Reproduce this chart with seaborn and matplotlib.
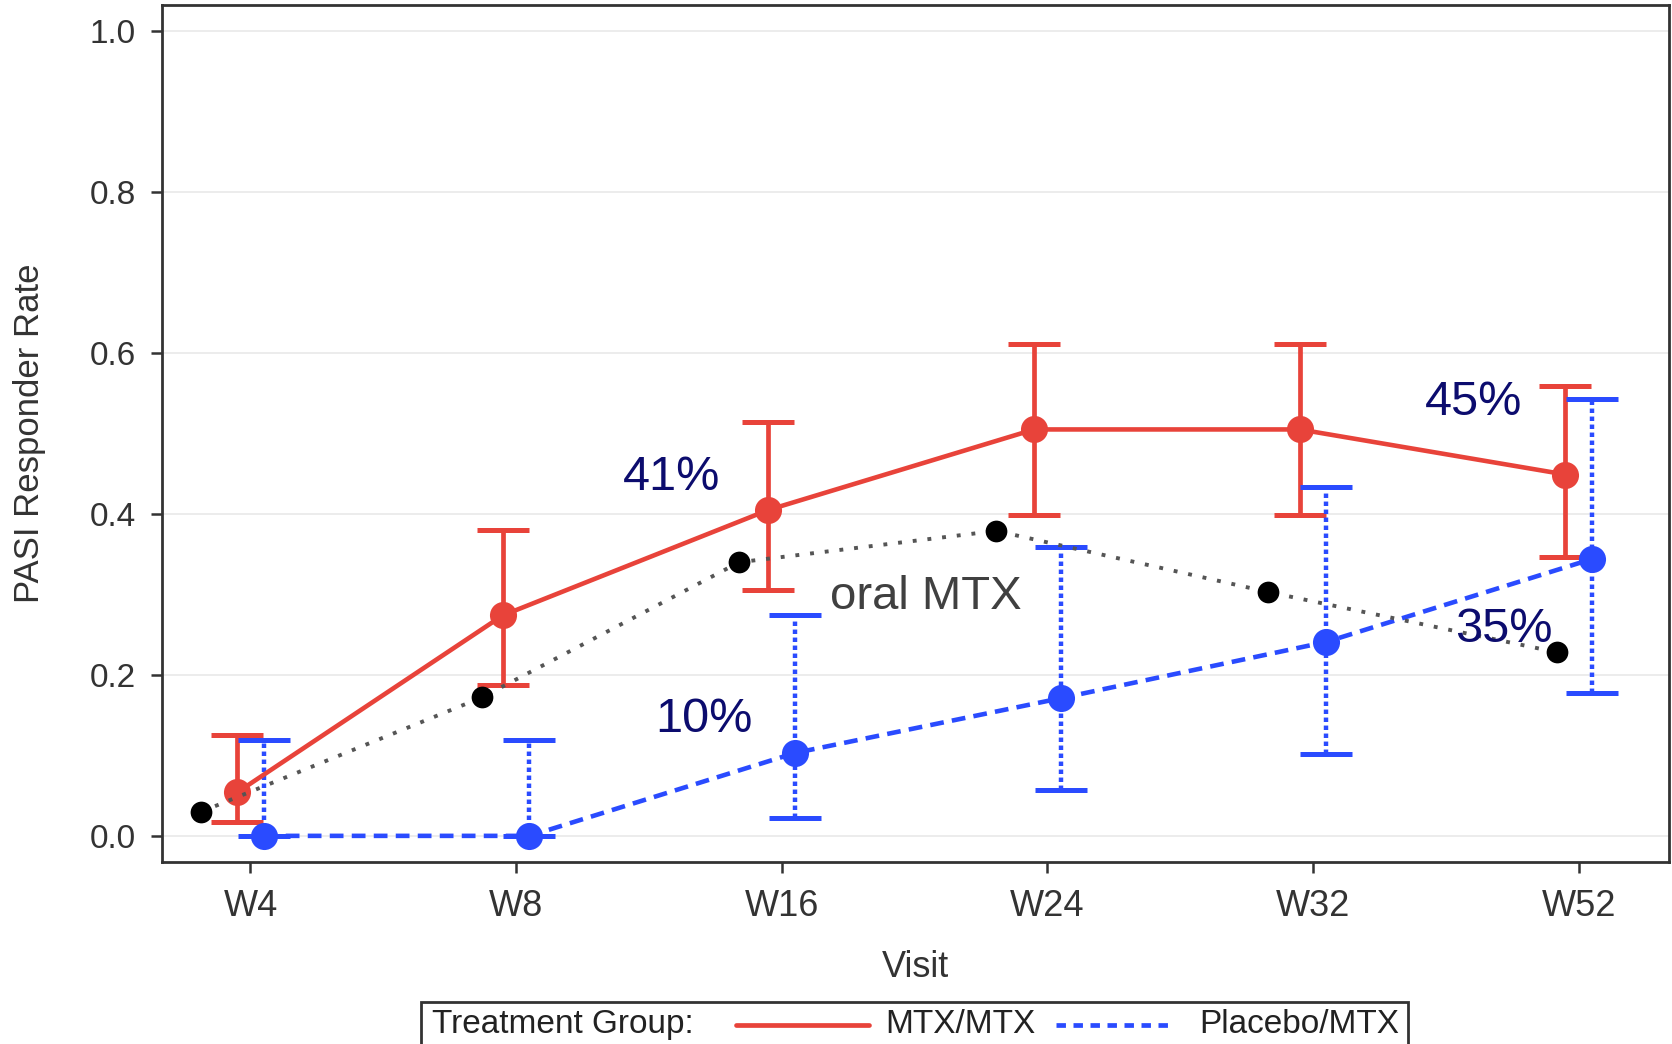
import numpy as np
import pandas as pd
import matplotlib
matplotlib.use("Agg")
import matplotlib.pyplot as plt
import seaborn as sns
from matplotlib.lines import Line2D
from matplotlib.patches import Rectangle

# ---------------- data ----------------
visits = ["W4", "W8", "W16", "W24", "W32", "W52"]
mtx_rate = [0.054, 0.274, 0.405, 0.505, 0.505, 0.449]
mtx_lower = [0.017, 0.187, 0.305, 0.399, 0.399, 0.347]
mtx_upper = [0.125, 0.380, 0.514, 0.611, 0.611, 0.559]
pbo_rate = [0.000, 0.000, 0.103, 0.171, 0.241, 0.344]
pbo_lower = [0.000, 0.000, 0.022, 0.057, 0.102, 0.177]
pbo_upper = [0.119, 0.119, 0.274, 0.359, 0.434, 0.543]
oral_pos = [-0.185, 0.871, 1.840, 2.807, 3.831, 4.920]
oral_rate = [0.030, 0.172, 0.340, 0.379, 0.303, 0.228]
pct_labels = ["41%", "10%", "45%", "35%"]
pct_x = [1.586, 1.707, 4.606, 4.719]
pct_y = [0.445, 0.144, 0.539, 0.257]
y_ticks = [0.0, 0.2, 0.4, 0.6, 0.8, 1.0]

RED = "#e8433a"
BLUE = "#2a4bff"
NAVY = "#0c0c6e"
offset = 0.05

idx = np.arange(len(visits))
df_mtx = pd.DataFrame({"pos": idx - offset, "rate": mtx_rate})
df_pbo = pd.DataFrame({"pos": idx + offset, "rate": pbo_rate})
df_oral = pd.DataFrame({"pos": oral_pos, "rate": oral_rate})

sns.set_theme(style="white")
plt.rcParams["font.family"] = ["Liberation Sans", "DejaVu Sans"]

fig = plt.figure(figsize=(16.72, 10.44), dpi=100)
ax = fig.add_axes([0.0969, 0.1747, 0.9013, 0.8202])

# grid
for yt in y_ticks:
    ax.axhline(yt, color="#ebebeb", lw=1.3, zorder=0)

# error bars
eb1 = ax.errorbar(df_mtx["pos"], mtx_rate,
                  yerr=[np.array(mtx_rate) - np.array(mtx_lower),
                        np.array(mtx_upper) - np.array(mtx_rate)],
                  fmt="none", ecolor=RED, elinewidth=3.4, capsize=19, capthick=3.6, zorder=3)
eb2 = ax.errorbar(df_pbo["pos"], pbo_rate,
                  yerr=[np.array(pbo_rate) - np.array(pbo_lower),
                        np.array(pbo_upper) - np.array(pbo_rate)],
                  fmt="none", ecolor=BLUE, elinewidth=3.2, capsize=19, capthick=3.6, zorder=3)
for lc in eb2[2]:
    lc.set_linestyle((0, (1.0, 0.8)))

# lines
sns.lineplot(data=df_mtx, x="pos", y="rate", ax=ax, color=RED, lw=3.3,
             marker="o", markersize=19.5, markeredgewidth=0, zorder=4)
sns.lineplot(data=df_pbo, x="pos", y="rate", ax=ax, color=BLUE, lw=3.3,
             marker="o", markersize=19.5, markeredgewidth=0, zorder=4,
             linestyle=(0, (3, 1.8)))
sns.lineplot(data=df_oral, x="pos", y="rate", ax=ax, color="#555555", lw=2.8,
             linestyle=(0, (1, 2.8)), zorder=5)
sns.scatterplot(data=df_oral, x="pos", y="rate", ax=ax, color="black", s=245,
                linewidth=0, zorder=6)

# annotations
for t, x, y in zip(pct_labels, pct_x, pct_y):
    ax.text(x, y, t, color=NAVY, fontsize=35, ha="center", va="center", zorder=7)
ax.text(2.542, 0.297, "oral MTX", color="#404040", fontsize=34, ha="center", va="center", zorder=7)

# axes
ax.set_xlim(-0.333, 5.34)
ax.set_ylim(-0.032, 1.032)
ax.set_xticks(idx)
ax.set_xticklabels(visits)
ax.set_yticks(y_ticks)
ax.set_yticklabels([f"{v:.1f}" for v in y_ticks])
ax.tick_params(axis="both", colors="#333333", length=8, width=1.8,
               direction="out", labelcolor="#333333")
ax.tick_params(axis="x", pad=12, labelsize=26, bottom=True)
ax.tick_params(axis="y", pad=11, labelsize=24, left=True)
for sp in ax.spines.values():
    sp.set_color("#333333")
    sp.set_linewidth(2.0)

ax.set_xlabel("Visit", fontsize=26, color="#333333")
ax.set_ylabel("PASI Responder Rate", fontsize=25, color="#333333")
ax.xaxis.set_label_coords(0.5, -0.124)
ax.xaxis.label.set_va("center")
ax.yaxis.set_label_coords(-0.088, 0.5)
ax.yaxis.label.set_va("center")

# legend (manual box at bottom)
ly = 0.0182
fig.add_artist(Rectangle((0.2519, -0.02), 0.842 - 0.2519, 0.0402 + 0.02,
                         transform=fig.transFigure, fill=False, edgecolor="#333333", lw=2))
fig.text(0.2583, ly, "Treatment Group:", fontsize=24, va="center", ha="left", color="#222222")
fig.add_artist(Line2D([0.440, 0.520], [ly, ly], transform=fig.transFigure, color=RED, lw=3.4))
fig.text(0.5293, ly, "MTX/MTX", fontsize=24, va="center", ha="left", color="#222222")
fig.add_artist(Line2D([0.6315, 0.7016], [ly, ly], transform=fig.transFigure, color=BLUE, lw=3.4,
                      linestyle=(0, (2, 1.6))))
fig.text(0.7175, ly, "Placebo/MTX", fontsize=24, va="center", ha="left", color="#222222")

fig.savefig("out.png", dpi=100)
